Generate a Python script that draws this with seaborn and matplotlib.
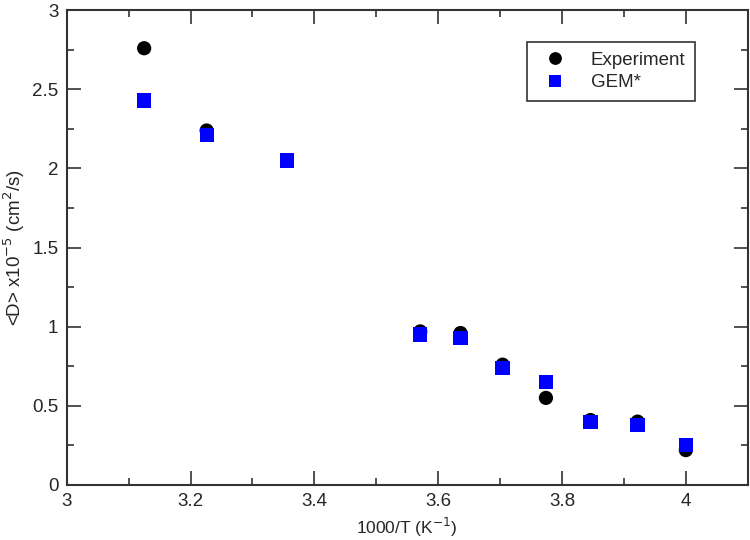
import numpy as np
import pandas as pd
import seaborn as sns
from matplotlib import pyplot as plt
from matplotlib.ticker import MultipleLocator

# data
exp_x = [3.125, 3.226, 3.571, 3.636, 3.704, 3.774, 3.846, 3.922, 4.0]
exp_d = [2.76, 2.24, 0.97, 0.96, 0.76, 0.55, 0.41, 0.40, 0.22]
gem_x = [3.125, 3.226, 3.356, 3.571, 3.636, 3.704, 3.774, 3.846, 3.922, 4.0]
gem_d = [2.43, 2.21, 2.05, 0.95, 0.93, 0.74, 0.65, 0.40, 0.38, 0.25]

x_ticks = [3, 3.2, 3.4, 3.6, 3.8, 4]
x_labels = ['3', '3.2', '3.4', '3.6', '3.8', '4']
y_ticks = [0, 0.5, 1, 1.5, 2, 2.5, 3]
y_labels = ['0', '0.5', '1', '1.5', '2', '2.5', '3']

df = pd.concat([
    pd.DataFrame({'x': exp_x, 'D': exp_d, 'series': 'Experiment'}),
    pd.DataFrame({'x': gem_x, 'D': gem_d, 'series': 'GEM*'}),
], ignore_index=True)

sns.set_style('ticks')
plt.rcParams['font.family'] = ['Liberation Sans', 'DejaVu Sans']

fig, ax = plt.subplots(figsize=(7.5, 5.4), dpi=100)
fig.subplots_adjust(left=0.089, right=0.997, bottom=0.102, top=0.981)

sns.scatterplot(data=df, x='x', y='D', hue='series', style='series',
                palette={'Experiment': 'black', 'GEM*': '#0000ff'},
                markers={'Experiment': 'o', 'GEM*': 's'},
                s=105, linewidth=0, ax=ax)

ax.set_xlim(3, 4.1)
ax.set_ylim(0, 3)
ax.set_xticks(x_ticks, x_labels)
ax.set_yticks(y_ticks, y_labels)
ax.xaxis.set_minor_locator(MultipleLocator(0.1))
ax.yaxis.set_minor_locator(MultipleLocator(0.25))
ax.tick_params(which='both', direction='in', top=True, right=True,
               labelsize=13.5, width=1.2, color='#333333')
ax.tick_params(which='major', length=10, pad=6)
ax.tick_params(which='minor', length=5)
for sp in ax.spines.values():
    sp.set_linewidth(1.5)
    sp.set_color('#333333')

ax.set_xlabel('1000/T (K$^{-1}$)', fontsize=12.5)
ax.set_ylabel('<D> x10$^{-5}$ (cm$^{2}$/s)', fontsize=13.5)

leg = ax.legend(loc='upper right', bbox_to_anchor=(0.922, 0.933), borderaxespad=0,
                fontsize=13.5, fancybox=False, framealpha=1, edgecolor='#333333',
                handletextpad=0.9, borderpad=0.5, labelspacing=0.3,
                markerscale=0.9)
leg.get_frame().set_linewidth(1.2)

fig.savefig('out.png', dpi=100)
